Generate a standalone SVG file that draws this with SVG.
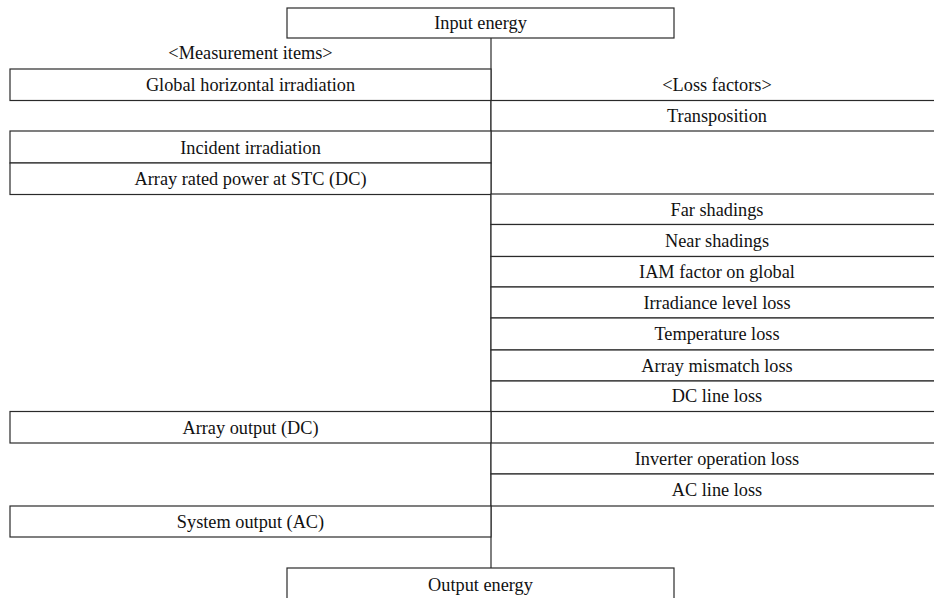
<svg xmlns="http://www.w3.org/2000/svg" width="934" height="598" viewBox="0 0 934 598">
<style>
.box{fill:#fff;stroke:#2a2a2a;stroke-width:1.2}
.t{font-family:"Liberation Serif","Times New Roman",serif;font-size:18.3px;fill:#111;text-anchor:middle}
.conn{stroke:#2a2a2a;stroke-width:1.2;fill:none}
</style>
<rect width="934" height="598" fill="#fff"/>
<g id="connectors">
<line class="conn" x1="491" y1="38" x2="491" y2="568"/>
</g>
<g id="input-energy"><rect class="box" x="287" y="8" width="387" height="30"/><text class="t" x="480.5" y="29">Input energy</text></g>
<g id="measurement-label"><text class="t" x="250.5" y="59">&lt;Measurement items&gt;</text></g>
<g id="loss-label"><text class="t" x="717" y="91">&lt;Loss factors&gt;</text></g>
<g id="global-horizontal"><rect class="box" x="10" y="69" width="481" height="31.5"/><text class="t" x="250.5" y="91">Global horizontal irradiation</text></g>
<g id="transposition"><rect class="box" x="491" y="100.5" width="455" height="30.5"/><text class="t" x="717" y="122">Transposition</text></g>
<g id="incident"><rect class="box" x="10" y="131" width="481" height="32"/><text class="t" x="250.5" y="153.5">Incident irradiation</text></g>
<g id="array-rated"><rect class="box" x="10" y="163" width="481" height="31.5"/><text class="t" x="250.5" y="185">Array rated power at STC (DC)</text></g>
<g id="far-shadings"><rect class="box" x="491" y="194" width="455" height="30.5"/><text class="t" x="717" y="215.5">Far shadings</text></g>
<g id="near-shadings"><rect class="box" x="491" y="224.5" width="455" height="32"/><text class="t" x="717" y="247">Near shadings</text></g>
<g id="iam"><rect class="box" x="491" y="256.5" width="455" height="30.5"/><text class="t" x="717" y="278">IAM factor on global</text></g>
<g id="irradiance"><rect class="box" x="491" y="287" width="455" height="31"/><text class="t" x="717" y="309">Irradiance level loss</text></g>
<g id="temperature"><rect class="box" x="491" y="318" width="455" height="32"/><text class="t" x="717" y="340">Temperature loss</text></g>
<g id="mismatch"><rect class="box" x="491" y="350" width="455" height="31"/><text class="t" x="717" y="371.5">Array mismatch loss</text></g>
<g id="dc-line"><rect class="box" x="491" y="381" width="455" height="30.5"/><text class="t" x="717" y="402">DC line loss</text></g>
<g id="array-output"><rect class="box" x="10" y="411.5" width="481" height="31.5"/><text class="t" x="250.5" y="434">Array output (DC)</text></g>
<g id="inverter"><rect class="box" x="491" y="443" width="455" height="31"/><text class="t" x="717" y="464.5">Inverter operation loss</text></g>
<g id="ac-line"><rect class="box" x="491" y="474" width="455" height="32"/><text class="t" x="717" y="496">AC line loss</text></g>
<g id="system-output"><rect class="box" x="10" y="506" width="481" height="31"/><text class="t" x="250.5" y="527.5">System output (AC)</text></g>
<g id="output-energy"><rect class="box" x="287" y="568" width="387" height="40"/><text class="t" x="480.5" y="590.5">Output energy</text></g>
</svg>
